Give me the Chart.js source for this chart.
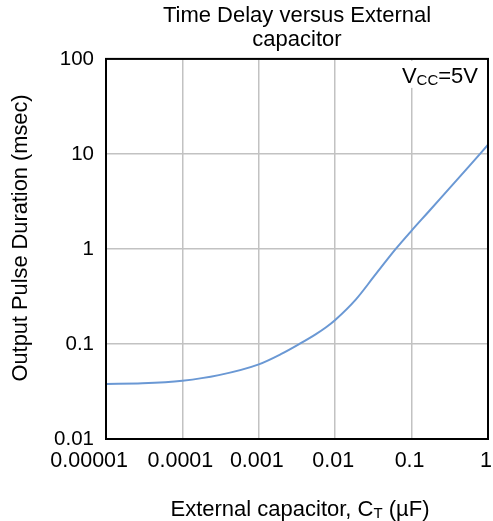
<!DOCTYPE html>
<html>
<head>
<meta charset="utf-8">
<script src="https://cdn.jsdelivr.net/npm/chart.js@4/dist/chart.umd.min.js"></script>
<style>
  html, body { margin: 0; padding: 0; background: #fff; }
  #chart { display: block; }
</style>
</head>
<body>
<canvas id="chart" width="493" height="521"></canvas>
<script>
// capacitance in uF, duration in msec
const capacitance = [0.00001, 0.00003, 0.0001, 0.0003, 0.001, 0.002, 0.0034, 0.0056, 0.0076, 0.01, 0.0187, 0.032, 0.062, 0.1, 0.17, 0.31, 0.56, 1]
const duration = [0.038, 0.0385, 0.041, 0.047, 0.061, 0.079, 0.100, 0.127, 0.150, 0.179, 0.295, 0.51, 1.0, 1.56, 2.51, 4.32, 7.35, 12.5]

const xTicks = [0.00001, 0.0001, 0.001, 0.01, 0.1, 1]
const xTickLabels = ['0.00001', '0.0001', '0.001', '0.01', '0.1', '1']
const yTicks = [0.01, 0.1, 1, 10, 100]
const yTickLabels = ['0.01', '0.1', '1', '10', '100']

const FONT = "'Liberation Sans', Arial, sans-serif"

let points = []
for (i = 0; i < capacitance.length; i++) {
    points.push({ x: capacitance[i], y: duration[i] })
}

// texts that chart.js can't do by itself (subscripts, offsets)
const extras = {
    id: 'extras',
    afterDatasetsDraw(chart) {
        const ctx = chart.ctx
        const area = chart.chartArea
        const xs = chart.scales.x
        ctx.save()

        // Vcc note, white box over the grid
        ctx.fillStyle = '#fff'
        ctx.fillRect(area.right - 90, area.top + 2, 86, 27)
        ctx.fillStyle = '#000'
        ctx.textBaseline = 'alphabetic'
        ctx.textAlign = 'left'
        const big = '22px ' + FONT
        const small = '15px ' + FONT
        ctx.font = big
        const wV = ctx.measureText('V').width
        const wRest = ctx.measureText('=5V').width
        ctx.font = small
        const wCC = ctx.measureText('CC').width
        let x0 = area.right - 10 - (wV + wCC + wRest)
        const base = area.top + 24
        ctx.font = big
        ctx.fillText('V', x0, base)
        ctx.font = small
        ctx.fillText('CC', x0 + wV, base + 2)
        ctx.font = big
        ctx.fillText('=5V', x0 + wV + wCC, base)

        // frame
        ctx.strokeStyle = '#000'
        ctx.lineWidth = 2
        ctx.strokeRect(area.left, area.top, area.right - area.left, area.bottom - area.top)

        // x tick labels
        ctx.font = '21.5px ' + FONT
        ctx.textBaseline = 'middle'
        xTicks.forEach((v, i) => {
            const px = xs.getPixelForValue(v)
            if (i == 0) {
                ctx.textAlign = 'right'
                ctx.fillText(xTickLabels[i], px + 22, area.bottom + 22)
            } else {
                ctx.textAlign = 'center'
                ctx.fillText(xTickLabels[i], px - 2, area.bottom + 22)
            }
        })

        // x title with subscript
        const t1 = 'External capacitor, C'
        const t2 = 'T'
        const t3 = ' (\u00b5F)'
        ctx.textBaseline = 'alphabetic'
        ctx.textAlign = 'left'
        ctx.font = '22px ' + FONT
        const w1 = ctx.measureText(t1).width
        const w3 = ctx.measureText(t3).width
        ctx.font = '15px ' + FONT
        const w2 = ctx.measureText(t2).width
        const cx = (area.left + area.right) / 2 + 3
        let tx = cx - (w1 + w2 + w3) / 2
        const ty = area.bottom + 77
        ctx.font = '22px ' + FONT
        ctx.fillText(t1, tx, ty)
        ctx.font = '15px ' + FONT
        ctx.fillText(t2, tx + w1, ty + 2)
        ctx.font = '22px ' + FONT
        ctx.fillText(t3, tx + w1 + w2, ty)

        // y title
        ctx.translate(21, (area.top + area.bottom) / 2 - 11)
        ctx.rotate(-Math.PI / 2)
        ctx.textAlign = 'center'
        ctx.textBaseline = 'middle'
        ctx.font = '21.8px ' + FONT
        ctx.fillText('Output Pulse Duration (msec)', 0, 0)

        ctx.restore()
    }
}

const ctx = document.getElementById('chart').getContext('2d')
const myChart = new Chart(ctx, {
    type: 'line',
    data: {
        datasets: [{
            data: points,
            borderColor: '#6a98d4',
            backgroundColor: '#6a98d4',
            borderWidth: 2,
            pointRadius: 0,
            cubicInterpolationMode: 'monotone',
            fill: false
        }]
    },
    options: {
        responsive: false,
        animation: false,
        layout: {
            padding: { left: 0, right: 5, top: 0, bottom: 0 }
        },
        plugins: {
            legend: { display: false },
            tooltip: { enabled: false },
            title: {
                display: true,
                fullSize: false,
                text: ['Time Delay versus External', 'capacitor'],
                color: '#000',
                font: { family: FONT, size: 22, weight: 'normal', lineHeight: 1.1 },
                padding: { top: 4, bottom: 6.5 }
            }
        },
        scales: {
            x: {
                type: 'logarithmic',
                min: 0.00001,
                max: 1,
                afterBuildTicks: (scale) => {
                    scale.ticks = xTicks.map(v => ({ value: v }))
                },
                afterFit: (scale) => {
                    scale.height = 82
                },
                ticks: { display: false },
                grid: { color: '#c2c2c2', lineWidth: 1.5, drawTicks: false },
                border: { display: false }
            },
            y: {
                type: 'logarithmic',
                min: 0.01,
                max: 100,
                afterBuildTicks: (scale) => {
                    scale.ticks = yTicks.map(v => ({ value: v }))
                },
                afterFit: (scale) => {
                    scale.width = 106
                },
                ticks: {
                    color: '#000',
                    padding: 12,
                    font: { family: FONT, size: 20.5 },
                    callback: (v, i) => yTickLabels[i]
                },
                grid: { color: '#c2c2c2', lineWidth: 1.5, drawTicks: false },
                border: { display: false }
            }
        }
    },
    plugins: [extras]
});
</script>
</body>
</html>
